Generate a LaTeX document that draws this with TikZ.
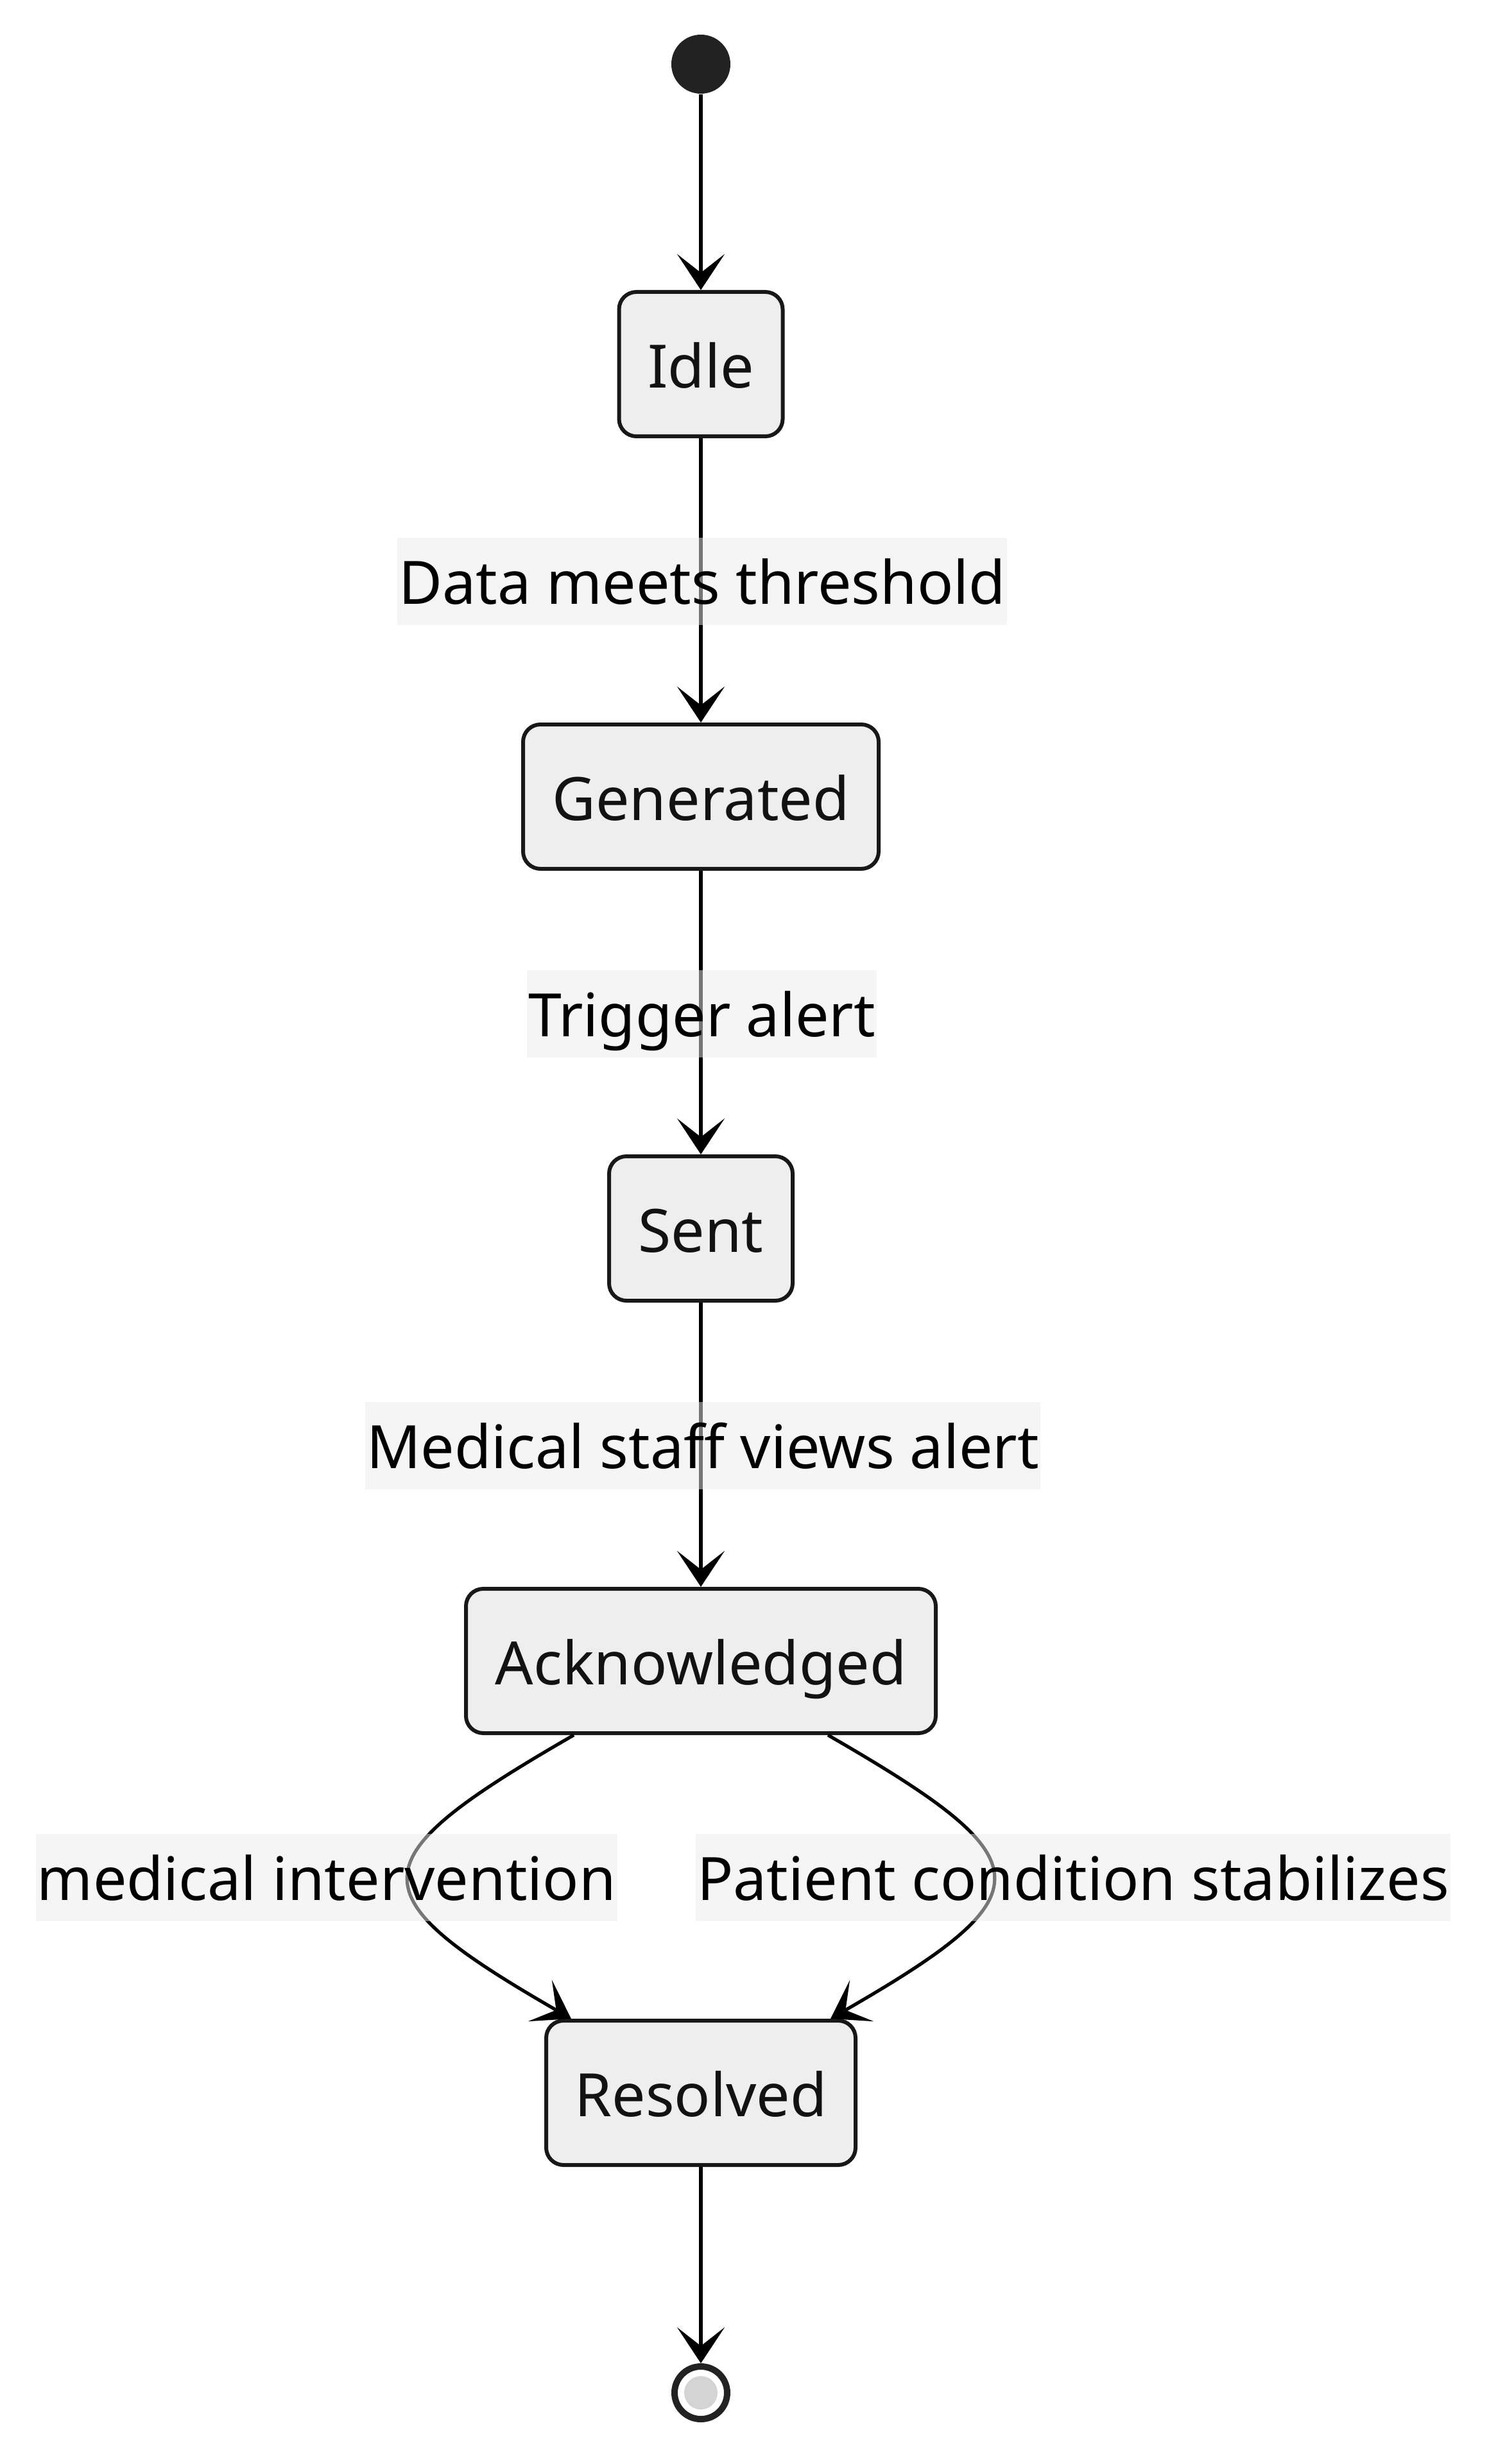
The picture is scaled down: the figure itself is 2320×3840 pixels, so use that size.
\documentclass[tikz,border=0pt]{standalone}
\usepackage{fontspec}
\setmainfont{Noto Sans}
\usetikzlibrary{arrows.meta,calc}
\definecolor{boxfill}{HTML}{EEEEEE}
\definecolor{boxline}{HTML}{181818}
\definecolor{dark}{HTML}{222222}
\definecolor{lblfill}{HTML}{EDEDED}
\definecolor{endfill}{HTML}{D4D4D4}
\begin{document}
\begin{tikzpicture}[x=0.25pt,y=-0.25pt,
  state/.style={draw=boxline, fill=boxfill, line width=1.5pt, rounded corners=6.75pt,
    minimum height=56.25pt, inner sep=0pt, text=black!93,
    font=\fontsize{23.3}{28}\selectfont, text height=18.7pt, text depth=0pt},
  lbl/.style={fill=lblfill, fill opacity=0.5, text opacity=1, inner xsep=0.6pt, inner ysep=0pt,
    minimum height=34pt, font=\fontsize{23.3}{28}\selectfont, text height=17.7pt, text depth=0pt},
  conn/.style={line width=1.3pt, draw=black, -{Stealth[length=14pt,width=18.5pt,inset=7.25pt]}}]
\fill[white] (0,0) rectangle (2320,3840);
\useasboundingbox (0,0) rectangle (2320,3840);

\node[circle, fill=dark, minimum size=23pt, inner sep=0pt] (start) at (1092,100) {};
\node[state, minimum width=63.75pt] (idle) at (1092,567.5) {Idle};
\node[state, minimum width=138.5pt] (gen) at (1092,1241.5) {Generated};
\node[state, minimum width=71.5pt] (sent) at (1092,1914.5) {Sent};
\node[state, minimum width=183pt] (ack) at (1092,2588.5) {Acknowledged};
\node[state, minimum width=120.5pt] (res) at (1092,3261.5) {Resolved};
\node[circle, draw=dark, line width=2.5pt, fill=white, minimum size=20.5pt, inner sep=0pt] (fin) at (1092,3729) {};
\fill[endfill] (fin.center) circle[radius=6.5pt];

\draw[conn] (start) -- (idle);
\draw[conn] (idle) -- (gen);
\draw[conn] (gen) -- (sent);
\draw[conn] (sent) -- (ack);
\draw[conn] ($(ack.south)+(-198,0)$) .. controls (554,2900) and (550,2950) .. ($(res.north)+(-202,0)$);
\draw[conn] ($(ack.south)+(198,0)$) .. controls (1630,2900) and (1634,2950) .. ($(res.north)+(202,0)$);
\draw[conn] (res) -- (fin);

\node[lbl] (l1) at (1094,906) {Data meets threshold};
\node[lbl] (l2) at (1093.5,1580) {Trigger alert};
\node[lbl] (l3) at (1095,2253) {Medical staff views alert};
\node[lbl, anchor=east] (l4) at (963,2926) {medical intervention};
\node[lbl, anchor=west] (l5) at (1083,2926) {Patient condition stabilizes};
\end{tikzpicture}
\end{document}
